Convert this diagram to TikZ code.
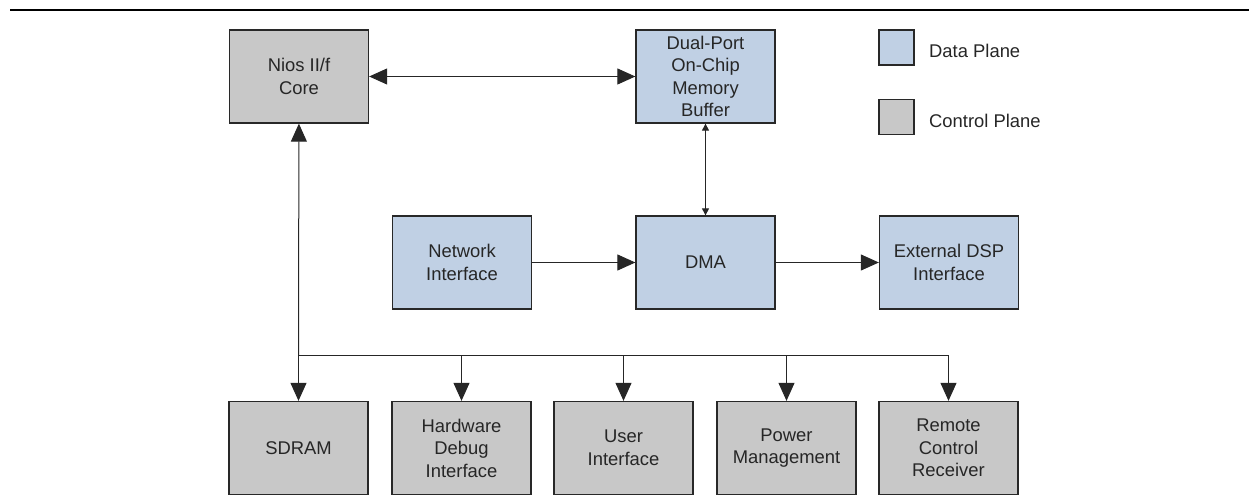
\documentclass[tikz,border=0pt]{standalone}
\usepackage{fontspec}
\setmainfont{Liberation Sans}
\usetikzlibrary{arrows.meta}
\definecolor{dataC}{RGB}{192,208,228}
\definecolor{ctrlC}{RGB}{200,200,200}
\definecolor{edgeC}{RGB}{40,40,40}
\tikzset{
  blk/.style={draw=edgeC, line width=1.3pt, minimum width=139pt, minimum height=93pt,
    inner sep=0pt, align=center, text=black!85, font=\fontsize{18.4pt}{22.5pt}\selectfont},
  datablk/.style={blk, fill=dataC},
  ctrlblk/.style={blk, fill=ctrlC},
  legbox/.style={draw=edgeC, line width=1.3pt, minimum width=35pt, minimum height=35pt, inner sep=0pt},
  legtext/.style={anchor=west, inner sep=0pt, text=black!85, font=\fontsize{18.4pt}{22.5pt}\selectfont},
  conn/.style={draw=black!85, line width=1pt},
  bigarr/.style={conn, -{Triangle[length=18pt,width=16pt]}},
  bigarr2/.style={conn, {Triangle[length=18pt,width=16pt]}-{Triangle[length=18pt,width=16pt]}},
  smallarr2/.style={conn, {Triangle[length=7pt,width=7pt]}-{Triangle[length=7pt,width=7pt]}},
}
\begin{document}
\begin{tikzpicture}[x=1pt,y=-1pt]
\useasboundingbox (0,0) rectangle (1249,502);
\draw[line width=2pt] (10,10) -- (1249,10);
% top row
\node[ctrlblk] (nios) at (299,76.5) {Nios II/f\\Core};
\node[datablk] (dual) at (705.5,76.5) {Dual-Port\\On-Chip\\Memory\\Buffer};
% middle row
\node[datablk] (net) at (462,262.5) {Network\\Interface};
\node[datablk] (dma) at (705.5,262.5) {DMA};
\node[datablk] (ext) at (949,262.5) {External DSP\\Interface};
% bottom row
\node[ctrlblk] (sdram) at (298.5,448) {SDRAM};
\node[ctrlblk] (hw) at (461.5,448) {Hardware\\Debug\\Interface};
\node[ctrlblk] (ui) at (623.5,448) {User\\Interface};
\node[ctrlblk] (pm) at (786.5,448) {Power\\Management};
\node[ctrlblk] (rc) at (948.5,448) {Remote\\Control\\Receiver};
% legend
\node[legbox, fill=dataC] (legd) at (896.5,47.5) {};
\node[legtext] (legdt) at (929,51) {Data Plane};
\node[legbox, fill=ctrlC] (legc) at (896.5,117) {};
\node[legtext] (legct) at (929,121) {Control Plane};
% connectors
\draw[bigarr2] (nios) -- (dual);
\draw[smallarr2] (dual) -- (dma);
\draw[bigarr] (net) -- (dma);
\draw[bigarr] (dma) -- (ext);
\coordinate (busy) at (0,355);
\coordinate (busL) at (sdram.north |- busy);
\coordinate (busR) at (rc.north |- busy);
\draw[bigarr] (busL) -- (nios);
\draw[conn] (busL) -- (busR);
\draw[bigarr] (busL) -- (sdram);
\draw[bigarr] (hw.north |- busy) -- (hw);
\draw[bigarr] (ui.north |- busy) -- (ui);
\draw[bigarr] (pm.north |- busy) -- (pm);
\draw[bigarr] (busR) -- (rc);
\end{tikzpicture}
\end{document}
